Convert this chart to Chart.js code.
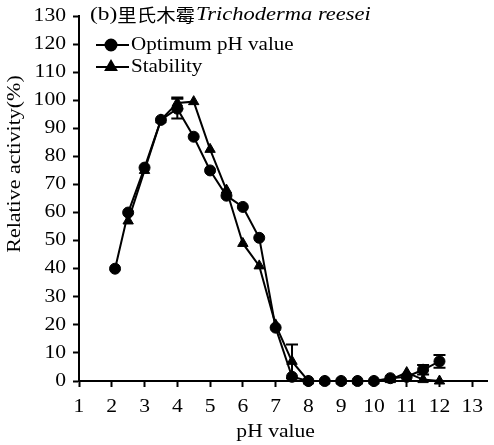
<!DOCTYPE html>
<html>
<head>
<meta charset="utf-8">
<script src="https://cdn.jsdelivr.net/npm/chart.js@4.4.1/dist/chart.umd.min.js"></script>
<style>
    html, body { margin: 0; padding: 0; background: #fff; }
    #wrap { width: 494px; height: 445px; }
</style>
</head>
<body>
<div id="wrap"><canvas id="chart" width="494" height="445"></canvas></div>
<script>
// pH values and relative activity (%)
const phOptimum = [2.1, 2.5, 3, 3.5, 4, 4.5, 5, 5.5, 6, 6.5, 7, 7.5, 8, 8.5, 9, 9.5, 10, 10.5, 11, 11.5, 12];
const optimumValues = [40, 60, 76, 93, 97, 87, 75, 66, 62, 51, 19, 1.5, 0, 0, 0, 0, 0, 1, 1.5, 4, 7];
const optimumErrors = [0, 0, 0, 0, 3.5, 0, 0, 0, 0, 0, 0, 0, 0, 0, 0, 0, 0, 0, 0, 1.7, 2.3];

const phStability = [2.5, 3, 3.5, 4, 4.5, 5, 5.5, 6, 6.5, 7, 7.5, 8, 8.5, 9, 9.5, 10, 10.5, 11, 11.5, 12];
const stabilityValues = [57, 75, 93, 99, 99.5, 82.5, 68, 49, 41, 20, 7, 0, 0, 0, 0, 0, 0.5, 3, 0.5, 0];
const stabilityErrors = [0, 0, 0, 2, 0, 0, 0, 0, 0, 0, 6, 0, 0, 0, 0, 0, 0, 0, 0, 0];

const xTicks = [1, 2, 3, 4, 5, 6, 7, 8, 9, 10, 11, 12, 13];
const yTicks = [0, 10, 20, 30, 40, 50, 60, 70, 80, 90, 100, 110, 120, 130];

const serif = "'Liberation Serif', 'Times New Roman', serif";
const ink = '#000';
const stretch = 1.2; // the source figure's text is a bit wider than plain Times

// fillText with a horizontal stretch
function wideText(ctx, text, x, y, align, sx) {
    ctx.save();
    ctx.translate(x, y);
    ctx.scale(sx, 1);
    ctx.textAlign = align;
    ctx.fillText(text, 0, 0);
    const w = ctx.measureText(text).width * sx;
    ctx.restore();
    return w;
}

// error bars drawn through the chart scales
const errorBars = {
    id: 'errorBars',
    afterDatasetsDraw(chart) {
        const ctx = chart.ctx;
        const xs = chart.scales.x, ys = chart.scales.y;
        chart.data.datasets.forEach(ds => {
            ds.data.forEach((p, i) => {
                const e = ds.errors[i];
                if (!e) return;
                const px = xs.getPixelForValue(p.x);
                const top = ys.getPixelForValue(p.y + e);
                const bot = ys.getPixelForValue(Math.max(0, p.y - e));
                ctx.save();
                ctx.strokeStyle = ink;
                ctx.lineWidth = 2;
                ctx.beginPath();
                ctx.moveTo(px, top); ctx.lineTo(px, bot);
                ctx.moveTo(px - 6, top); ctx.lineTo(px + 6, top);
                ctx.moveTo(px - 6, bot); ctx.lineTo(px + 6, bot);
                ctx.stroke();
                ctx.restore();
            });
        });
    }
};

// tick labels, title, legend and axis titles
const labels = {
    id: 'labels',
    afterDraw(chart) {
        const ctx = chart.ctx;
        const xs = chart.scales.x, ys = chart.scales.y;
        ctx.save();
        ctx.fillStyle = ink;
        ctx.textBaseline = 'middle';
        ctx.font = `18px ${serif}`;

        xTicks.forEach(v => wideText(ctx, String(v), xs.getPixelForValue(v), 407, 'center', stretch));
        yTicks.forEach(v => wideText(ctx, String(v), 66, ys.getPixelForValue(v), 'right', stretch));

        // panel title
        let x = 90;
        x += wideText(ctx, '(b)', x, 15, 'left', 1.3);
        ctx.font = "18px 'Noto Sans CJK SC', sans-serif";
        x += wideText(ctx, '里氏木霉', x, 15, 'left', 1.08);
        ctx.font = `italic 18px ${serif}`;
        wideText(ctx, 'Trichoderma reesei', x + 1, 15, 'left', 1.25);

        // legend
        const items = [
            { text: 'Optimum pH value', y: 45, style: 'circle', r: 5.5 },
            { text: 'Stability', y: 67, style: 'triangle', r: 6 }
        ];
        ctx.font = `18px ${serif}`;
        items.forEach(it => {
            ctx.strokeStyle = ink;
            ctx.lineWidth = 2;
            ctx.beginPath();
            ctx.moveTo(96, it.y); ctx.lineTo(129, it.y);
            ctx.stroke();
            Chart.helpers.drawPoint(ctx, { pointStyle: it.style, radius: it.r, borderWidth: 1 }, 111, it.y);
            ctx.fill();
            wideText(ctx, it.text, 131, it.y, 'left', 1.17);
        });

        // x title, centred on the 1..13 range
        wideText(ctx, 'pH value', (xs.getPixelForValue(1) + xs.getPixelForValue(13)) / 2, 432, 'center', stretch);

        // y title
        ctx.translate(15, 164);
        ctx.rotate(-Math.PI / 2);
        wideText(ctx, 'Relative activity(%)', 0, 0, 'center', 1.22);
        ctx.restore();
    }
};

const toPoints = (xsArr, ysArr) => xsArr.map((v, i) => ({ x: v, y: ysArr[i] }));

new Chart(document.getElementById('chart').getContext('2d'), {
    type: 'line',
    data: {
        datasets: [
            {
                label: 'Optimum pH value',
                data: toPoints(phOptimum, optimumValues),
                errors: optimumErrors,
                borderColor: ink,
                backgroundColor: ink,
                borderWidth: 2,
                pointStyle: 'circle',
                pointRadius: 5.5,
                pointBorderWidth: 1,
                tension: 0,
                clip: false
            },
            {
                label: 'Stability',
                data: toPoints(phStability, stabilityValues),
                errors: stabilityErrors,
                borderColor: ink,
                backgroundColor: ink,
                borderWidth: 2,
                pointStyle: 'triangle',
                pointRadius: 6,
                pointBorderWidth: 1,
                tension: 0,
                clip: false
            }
        ]
    },
    options: {
        responsive: false,
        animation: false,
        layout: { padding: { top: 16, right: 1, left: 0, bottom: 0 } },
        plugins: {
            legend: { display: false },
            tooltip: { enabled: false }
        },
        scales: {
            x: {
                type: 'linear',
                min: 1,
                max: 13.45,
                afterFit: s => { s.height = 64; },
                afterBuildTicks: s => { s.ticks = xTicks.map(v => ({ value: v })); },
                border: { color: ink, width: 2 },
                grid: { drawOnChartArea: false, drawTicks: true, tickLength: 6, tickColor: ink, tickWidth: 2 },
                ticks: { color: 'rgba(0,0,0,0)', font: { family: serif, size: 18 }, maxRotation: 0 }
            },
            y: {
                min: 0,
                max: 130,
                afterFit: s => { s.width = 79; },
                afterBuildTicks: s => { s.ticks = yTicks.map(v => ({ value: v })); },
                border: { color: ink, width: 2 },
                grid: { drawOnChartArea: false, drawTicks: true, tickLength: 6, tickColor: ink, tickWidth: 2 },
                ticks: { color: 'rgba(0,0,0,0)', font: { family: serif, size: 18 } }
            }
        }
    },
    plugins: [errorBars, labels]
});
</script>
</body>
</html>
